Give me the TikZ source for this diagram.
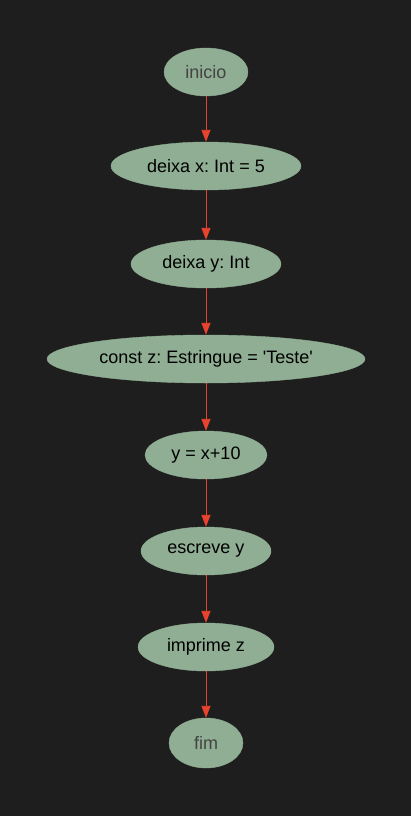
\documentclass[tikz,border=0pt]{standalone}
\usepackage{fontspec}
\setmainfont{Liberation Sans}
\usetikzlibrary{shapes.geometric,arrows.meta}
\definecolor{bg}{HTML}{1E1E1E}
\definecolor{nodefill}{HTML}{8FAE93}
\definecolor{edgered}{HTML}{E8432E}
\definecolor{termtext}{HTML}{444444}
\tikzset{
  st/.style={ellipse, fill=nodefill, draw=nodefill, inner sep=0pt, minimum height=48pt,
    font=\fontsize{18}{21}\selectfont\frenchspacing, text=black},
  term/.style={st, text=termtext},
  edge/.style={draw=edgered, line width=0.9pt, -{Triangle[length=12pt,width=9pt]}}
}
\begin{document}
\begin{tikzpicture}[x=1pt,y=-1pt]
\fill[bg] (0,0) rectangle (411,816);
\useasboundingbox (0,0) rectangle (411,816);
\node[term, minimum width=84pt] (n0) at (206,72) {inicio};
\node[st, minimum width=190pt] (n1) at (206,166) {deixa x: Int = 5};
\node[st, minimum width=150pt] (n2) at (206,264) {deixa y: Int};
\node[st, minimum width=318pt] (n3) at (206,359) {const z: Estringue = \textquotesingle Teste\textquotesingle};
\node[st, minimum width=122pt] (n4) at (206,455) {y = x+10};
\node[st, minimum width=130pt] (n5) at (206,551) {escreve y};
\node[st, minimum width=136pt] (n6) at (206,647) {imprime z};
\node[term, minimum width=74pt, minimum height=50pt] (n7) at (206,743) {fim};
\foreach \a/\b in {n0/n1,n1/n2,n2/n3,n3/n4,n4/n5,n5/n6,n6/n7}
  \draw[edge] (\a) -- (\b);
\end{tikzpicture}
\end{document}
